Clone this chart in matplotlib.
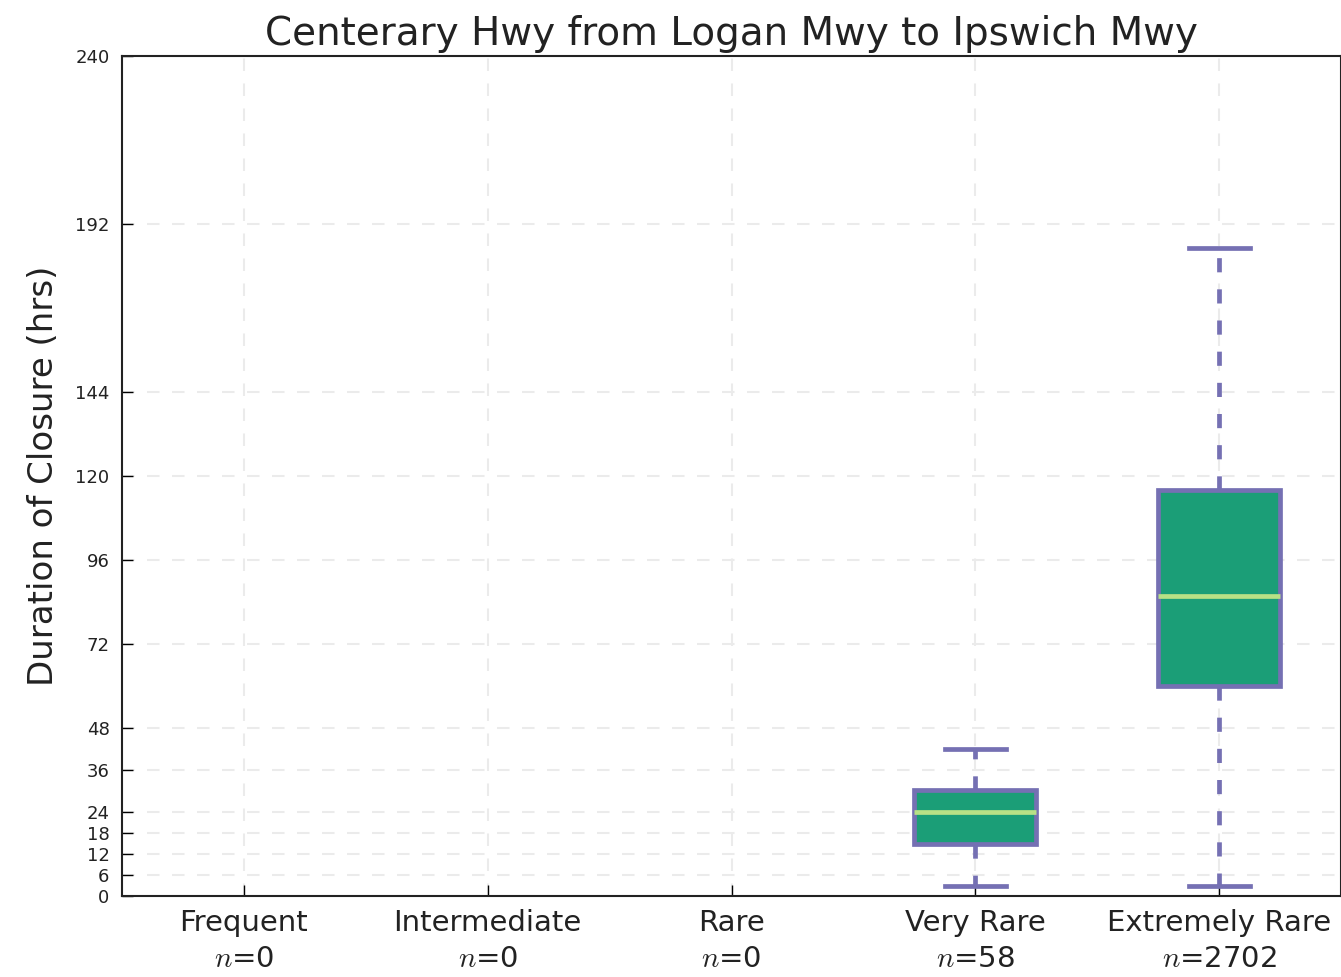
import matplotlib

matplotlib.use('agg')

from matplotlib import pyplot as plt

plt.rcParams['mathtext.fontset'] = 'cm'

categories = ["Frequent", "Intermediate", "Rare", "Very Rare", "Extremely Rare"]
counts = [0, 0, 0, 58, 2702]

# box stats (hrs); None means no data for that class
whislo = [None, None, None, 2.9, 2.9]
q1 = [None, None, None, 14.9, 60.0]
med = [None, None, None, 24.0, 85.7]
q3 = [None, None, None, 30.3, 116.0]
whishi = [None, None, None, 42.0, 185.0]

yticks = [0, 6, 12, 18, 24, 36, 48, 72, 96, 120, 144, 192, 240]

box_fill = "#1b9e77"
edge = "#7570b3"
median_col = "#b8e186"
text_col = "#222222"

fig = plt.figure(figsize=(13.41, 9.77), dpi=100)
ax = fig.add_axes([0.091, 0.0829, 0.909, 0.8598])

stats = []
positions = []
for i in range(len(categories)):
    if med[i] is None:
        continue
    stats.append({"whislo": whislo[i], "q1": q1[i], "med": med[i],
                  "q3": q3[i], "whishi": whishi[i], "fliers": []})
    positions.append(i + 1)

ax.bxp(stats, positions=positions, widths=0.5, patch_artist=True,
       showfliers=False,
       boxprops=dict(facecolor=box_fill, edgecolor=edge, linewidth=3.4),
       whiskerprops=dict(color=edge, linewidth=3.4, linestyle=(0, (3, 3.6))),
       capprops=dict(color=edge, linewidth=3.4),
       medianprops=dict(color=median_col, linewidth=3.4))

ax.set_xlim(0.5, 5.5)
ax.set_ylim(0, 240)
ax.set_yticks(yticks)
ax.set_yticklabels([str(t) for t in yticks], fontsize=13, color=text_col)
ax.set_xticks(range(1, len(categories) + 1))
xlabels = ax.set_xticklabels(["%s\n$n$=%d" % (c, n) for c, n in zip(categories, counts)],
                             fontsize=21, color=text_col)
for lab in xlabels:
    lab.set_linespacing(1.4)

ax.tick_params(direction='in', length=8, width=1, top=False, right=False)
ax.tick_params(axis='y', pad=9)
ax.tick_params(axis='x', pad=9)
for s in ax.spines.values():
    s.set_linewidth(1.5)
    s.set_color("#222222")

ax.grid(True, color="#ebebeb", linestyle=(0, (6, 6)), linewidth=1.5)
ax.set_axisbelow(True)

ax.set_ylabel("Duration of Closure (hrs)", fontsize=24.5, color=text_col,
              labelpad=11)
ax.set_title("Centerary Hwy from Logan Mwy to Ipswich Mwy", fontsize=28,
             color=text_col, pad=8)

plt.savefig("out.png")
